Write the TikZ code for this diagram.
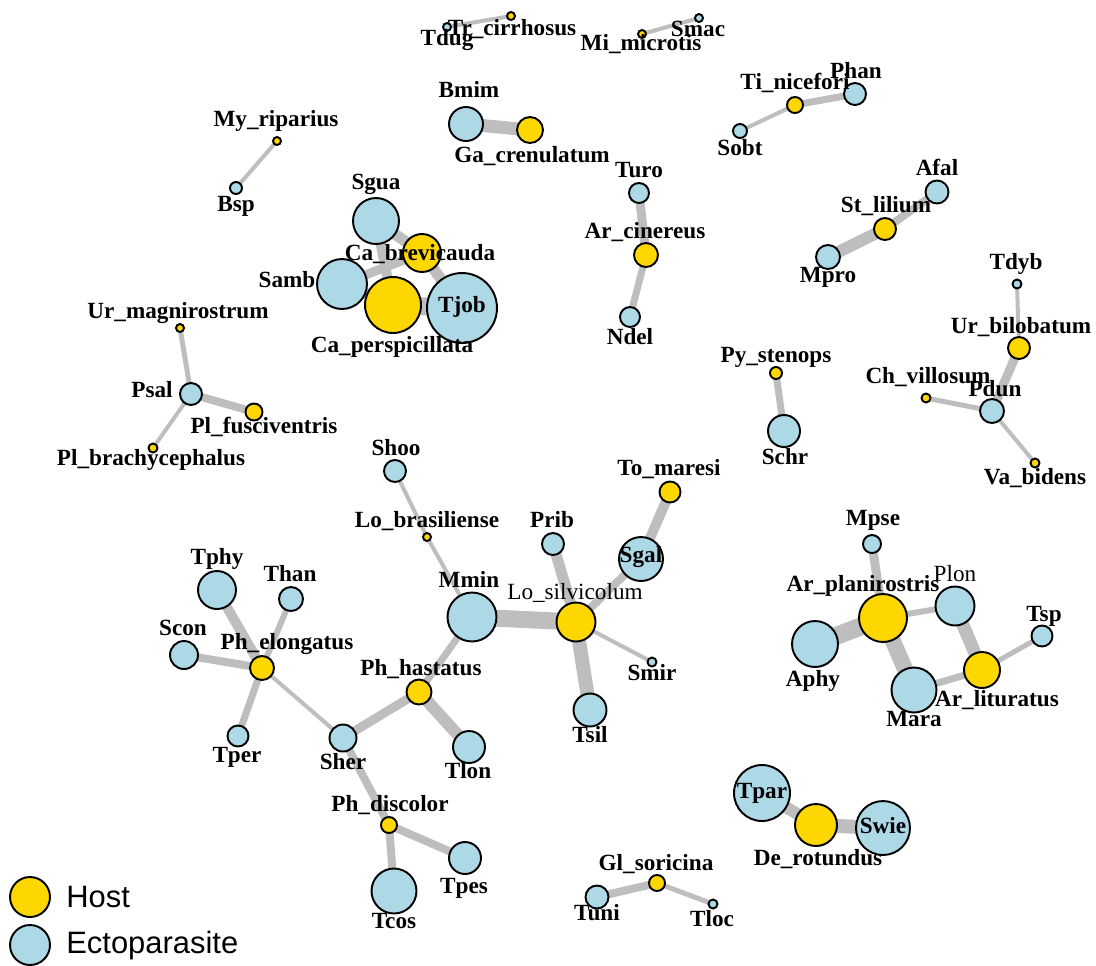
\documentclass[tikz,border=0pt]{standalone}
\usepackage{fontspec}
\setmainfont{Liberation Serif}
\newfontfamily\legfont{Liberation Sans}
\usetikzlibrary{backgrounds}
\definecolor{hostc}{HTML}{FFD700}
\definecolor{ectoc}{HTML}{ADD8E6}
\definecolor{edgec}{HTML}{BEBEBE}
\begin{document}
\begin{tikzpicture}[x=0.02cm, y=-0.02cm,
  hs/.style={circle, draw=black, line width=1.1pt, fill=hostc, minimum size=#1*0.04cm, inner sep=0pt},
  es/.style={circle, draw=black, line width=1.1pt, fill=ectoc, minimum size=#1*0.04cm, inner sep=0pt},
  lb/.style={font=\fontsize{13.2}{15}\selectfont\bfseries, inner sep=0pt, text height=9pt, text depth=2.7pt},
  lr/.style={lb, font=\fontsize{13.2}{15}\selectfont},
  ed/.style={draw=edgec, line width=#1*0.02cm},
  leg/.style={font=\legfont\fontsize{17.6}{20}\selectfont, inner sep=0pt, anchor=west}]
\useasboundingbox (0,0) rectangle (1096,965);
% ---------- nodes ----------
\node[es=4]   (Tdug) at (447,27) {};
\node[hs=4]   (Trci) at (511,16) {};
\node[es=4]   (Smac) at (699,18) {};
\node[hs=4]   (Mimi) at (642,34) {};
\node[es=17]  (Bmim) at (466,124) {};
\node[hs=13]  (Gacr) at (530,130) {};
\node[hs=4]   (Myri) at (277,141) {};
\node[es=6]   (Bsp)  at (236,188) {};
\node[es=23]  (Sgua) at (376,221) {};
\node[hs=19]  (Cabr) at (422,253) {};
\node[es=25]  (Samb) at (342,284) {};
\node[hs=28]  (Cape) at (393,305) {};
\node[es=35]  (Tjob) at (462,308) {};
\node[es=10]  (Turo) at (639,193) {};
\node[hs=12]  (Arci) at (646,255) {};
\node[es=10]  (Ndel) at (630,317) {};
\node[es=11]  (Phan) at (855,94) {};
\node[hs=8]   (Tini) at (795,105) {};
\node[es=7]   (Sobt) at (740,131) {};
\node[es=11.5](Afal) at (937,192) {};
\node[hs=11]  (Stli) at (885,229) {};
\node[es=12]  (Mpro) at (828,257) {};
\node[es=4.5] (Tdyb) at (1017,284) {};
\node[hs=11]  (Urbi) at (1019,348) {};
\node[es=12]  (Pdun) at (992,411) {};
\node[hs=4.5] (Chvi) at (926,398) {};
\node[hs=4.5] (Vabi) at (1035,463) {};
\node[hs=6]   (Pyst) at (776,373) {};
\node[es=16]  (Schr) at (784,431) {};
\node[es=11]  (Psal) at (191,394) {};
\node[hs=4]   (Urma) at (180,328) {};
\node[hs=8.5] (Plfu) at (254,412) {};
\node[hs=4.5] (Plbr) at (153,448) {};
\node[es=11]  (Shoo) at (395,471) {};
\node[hs=4]   (Lobr) at (427,537) {};
\node[hs=10.5](Toma) at (670,492) {};
\node[es=22]  (Sgal) at (641,559) {};
\node[es=11]  (Prib) at (553,544) {};
\node[hs=19.5](Losi) at (576,622) {};
\node[es=24.5](Mmin) at (472,617) {};
\node[es=4.5] (Smir) at (652,662) {};
\node[es=16.5](Tsil) at (590,710) {};
\node[es=19]  (Tphy) at (217,590) {};
\node[es=12]  (Than) at (291,599) {};
\node[es=14]  (Scon) at (184,655) {};
\node[hs=12]  (Phel) at (262,668) {};
\node[es=10.5](Tper) at (238,736) {};
\node[es=13.5](Sher) at (343,738) {};
\node[hs=12.5](Phha) at (419,692) {};
\node[es=16]  (Tlon) at (469,747) {};
\node[hs=8]   (Phdi) at (389,825) {};
\node[es=16]  (Tpes) at (465,858) {};
\node[es=22.5](Tcos) at (394,891) {};
\node[hs=8]   (Glso) at (657,883) {};
\node[es=11.5](Tuni) at (597,897) {};
\node[es=4.5] (Tloc) at (713,904) {};
\node[es=28]  (Tpar) at (762,793) {};
\node[hs=21]  (Dero) at (816,825) {};
\node[es=27]  (Swie) at (883,828) {};
\node[es=9]   (Mpse) at (872,544) {};
\node[hs=24]  (Arpl) at (883,618) {};
\node[es=19.5](Plon) at (955,606) {};
\node[es=23]  (Aphy) at (815,644) {};
\node[es=22.5](Mara) at (914,690) {};
\node[hs=18]  (Arli) at (982,670) {};
\node[es=10.5](Tsp)  at (1042,636) {};
% ---------- edges ----------
\begin{scope}[on background layer]
\draw[ed=4]  (Tdug.center) -- (Trci.center);
\draw[ed=4]  (Mimi.center) -- (Smac.center);
\draw[ed=13] (Bmim.center) -- (Gacr.center);
\draw[ed=4]  (Myri.center) -- (Bsp.center);
\draw[ed=11] (Sgua.center) -- (Cabr.center);
\draw[ed=10] (Sgua.center) -- (Cape.center);
\draw[ed=9]  (Samb.center) -- (Cabr.center);
\draw[ed=11] (Samb.center) -- (Cape.center);
\draw[ed=11] (Cabr.center) -- (Tjob.center);
\draw[ed=18] (Cape.center) -- (Tjob.center);
\draw[ed=9]  (Turo.center) -- (Arci.center);
\draw[ed=7]  (Arci.center) -- (Ndel.center);
\draw[ed=7]  (Tini.center) -- (Phan.center);
\draw[ed=4]  (Tini.center) -- (Sobt.center);
\draw[ed=12] (Stli.center) -- (Mpro.center);
\draw[ed=8]  (Stli.center) -- (Afal.center);
\draw[ed=4]  (Tdyb.center) -- (Urbi.center);
\draw[ed=9]  (Urbi.center) -- (Pdun.center);
\draw[ed=5]  (Pdun.center) -- (Chvi.center);
\draw[ed=4]  (Pdun.center) -- (Vabi.center);
\draw[ed=7]  (Pyst.center) -- (Schr.center);
\draw[ed=5]  (Psal.center) -- (Urma.center);
\draw[ed=8]  (Psal.center) -- (Plfu.center);
\draw[ed=4]  (Psal.center) -- (Plbr.center);
\draw[ed=4]  (Shoo.center) -- (Lobr.center);
\draw[ed=4]  (Lobr.center) -- (Mmin.center);
\draw[ed=17] (Mmin.center) -- (Losi.center);
\draw[ed=11] (Losi.center) -- (Prib.center);
\draw[ed=8]  (Losi.center) -- (Sgal.center);
\draw[ed=10] (Sgal.center) -- (Toma.center);
\draw[ed=4]  (Losi.center) -- (Smir.center);
\draw[ed=14] (Losi.center) -- (Tsil.center);
\draw[ed=7]  (Mmin.center) -- (Phha.center);
\draw[ed=9]  (Phha.center) -- (Sher.center);
\draw[ed=12] (Phha.center) -- (Tlon.center);
\draw[ed=10] (Phel.center) -- (Tphy.center);
\draw[ed=6]  (Phel.center) -- (Than.center);
\draw[ed=8]  (Phel.center) -- (Scon.center);
\draw[ed=7]  (Phel.center) -- (Tper.center);
\draw[ed=4]  (Phel.center) -- (Sher.center);
\draw[ed=8]  (Sher.center) -- (Phdi.center);
\draw[ed=8]  (Phdi.center) -- (Tcos.center);
\draw[ed=8]  (Phdi.center) -- (Tpes.center);
\draw[ed=8]  (Glso.center) -- (Tuni.center);
\draw[ed=5]  (Glso.center) -- (Tloc.center);
\draw[ed=12] (Tpar.center) -- (Dero.center);
\draw[ed=14] (Dero.center) -- (Swie.center);
\draw[ed=9]  (Mpse.center) -- (Arpl.center);
\draw[ed=18] (Arpl.center) -- (Aphy.center);
\draw[ed=6]  (Arpl.center) -- (Plon.center);
\draw[ed=16] (Arpl.center) -- (Mara.center);
\draw[ed=13] (Plon.center) -- (Arli.center);
\draw[ed=7]  (Arli.center) -- (Mara.center);
\draw[ed=5]  (Arli.center) -- (Tsp.center);
\end{scope}
% ---------- labels ----------
\node[lb] (lTdug) at (447,40) {Tdug};
\node[lb] (lTrci) at (512,30) {Tr\_cirrhosus};
\node[lb] (lSmac) at (698,31) {Smac};
\node[lb] (lMimi) at (641,45) {Mi\_microtis};
\node[lb] (lBmim) at (469,92) {Bmim};
\node[lb] (lGacr) at (532,157) {Ga\_crenulatum};
\node[lb] (lMyri) at (276,121) {My\_riparius};
\node[lb] (lBsp)  at (236,206) {Bsp};
\node[lb] (lSgua) at (376,184) {Sgua};
\node[lb] (lCabr) at (420,255) {Ca\_brevicauda};
\node[lb] (lSamb) at (287,282) {Samb};
\node[lb] (lTjob) at (462,307) {Tjob};
\node[lb] (lCape) at (392,347) {Ca\_perspicillata};
\node[lb] (lTuro) at (639,172) {Turo};
\node[lb] (lArci) at (645,233) {Ar\_cinereus};
\node[lb] (lNdel) at (630,339) {Ndel};
\node[lb] (lPhan) at (856,73) {Phan};
\node[lb] (lTini) at (795,84) {Ti\_nicefori};
\node[lb] (lSobt) at (740,150) {Sobt};
\node[lb] (lAfal) at (937,170) {Afal};
\node[lb] (lStli) at (886,207) {St\_lilium};
\node[lb] (lMpro) at (828,277) {Mpro};
\node[lb] (lTdyb) at (1016,264) {Tdyb};
\node[lb] (lUrbi) at (1021,328) {Ur\_bilobatum};
\node[lb] (lChvi) at (928,378) {Ch\_villosum};
\node[lb] (lPdun) at (995,391) {Pdun};
\node[lb] (lVabi) at (1035,479) {Va\_bidens};
\node[lb] (lPyst) at (776,357) {Py\_stenops};
\node[lb] (lSchr) at (785,459) {Schr};
\node[lb] (lUrma) at (178,313) {Ur\_magnirostrum};
\node[lb] (lPsal) at (152,392) {Psal};
\node[lb] (lPlfu) at (264,428) {Pl\_fusciventris};
\node[lb] (lPlbr) at (151,460) {Pl\_brachycephalus};
\node[lb] (lShoo) at (396,450) {Shoo};
\node[lb] (lLobr) at (427,522) {Lo\_brasiliense};
\node[lb] (lToma) at (669,470) {To\_maresi};
\node[lb] (lPrib) at (552,522) {Prib};
\node[lb] (lSgal) at (641,557) {Sgal};
\node[lb] (lMmin) at (469,582) {Mmin};
\node[lr] (lLosi) at (575,594) {Lo\_silvicolum};
\node[lb] (lSmir) at (652,675) {Smir};
\node[lb] (lTsil) at (590,737) {Tsil};
\node[lb] (lTphy) at (217,559) {Tphy};
\node[lb] (lThan) at (290,576) {Than};
\node[lb] (lScon) at (183,630) {Scon};
\node[lb] (lPhel) at (287,644) {Ph\_elongatus};
\node[lb] (lTper) at (237,757) {Tper};
\node[lb] (lSher) at (343,764) {Sher};
\node[lb] (lPhha) at (421,670) {Ph\_hastatus};
\node[lb] (lTlon) at (468,773) {Tlon};
\node[lb] (lPhdi) at (390,806) {Ph\_discolor};
\node[lb] (lTpes) at (464,888) {Tpes};
\node[lb] (lTcos) at (394,923) {Tcos};
\node[lb] (lGlso) at (656,865) {Gl\_soricina};
\node[lb] (lTuni) at (597,915) {Tuni};
\node[lb] (lTloc) at (712,921) {Tloc};
\node[lb] (lTpar) at (762,793) {Tpar};
\node[lb] (lDero) at (818,860) {De\_rotundus};
\node[lb] (lSwie) at (883,828) {Swie};
\node[lb] (lMpse) at (873,520) {Mpse};
\node[lb] (lArpl) at (863,586) {Ar\_planirostris};
\node[lr] (lPlon) at (955,576) {Plon};
\node[lb] (lAphy) at (813,681) {Aphy};
\node[lb] (lMara) at (914,721) {Mara};
\node[lb] (lArli) at (997,701) {Ar\_lituratus};
\node[lb] (lTsp)  at (1044,616) {Tsp};
% ---------- legend ----------
\node[hs=20] (legH) at (30,897) {};
\node[es=20] (legE) at (30,945) {};
\node[leg] (legHt) at (66,897) {Host};
\node[leg] (legEt) at (66,945) {Ectoparasite};
\end{tikzpicture}
\end{document}
